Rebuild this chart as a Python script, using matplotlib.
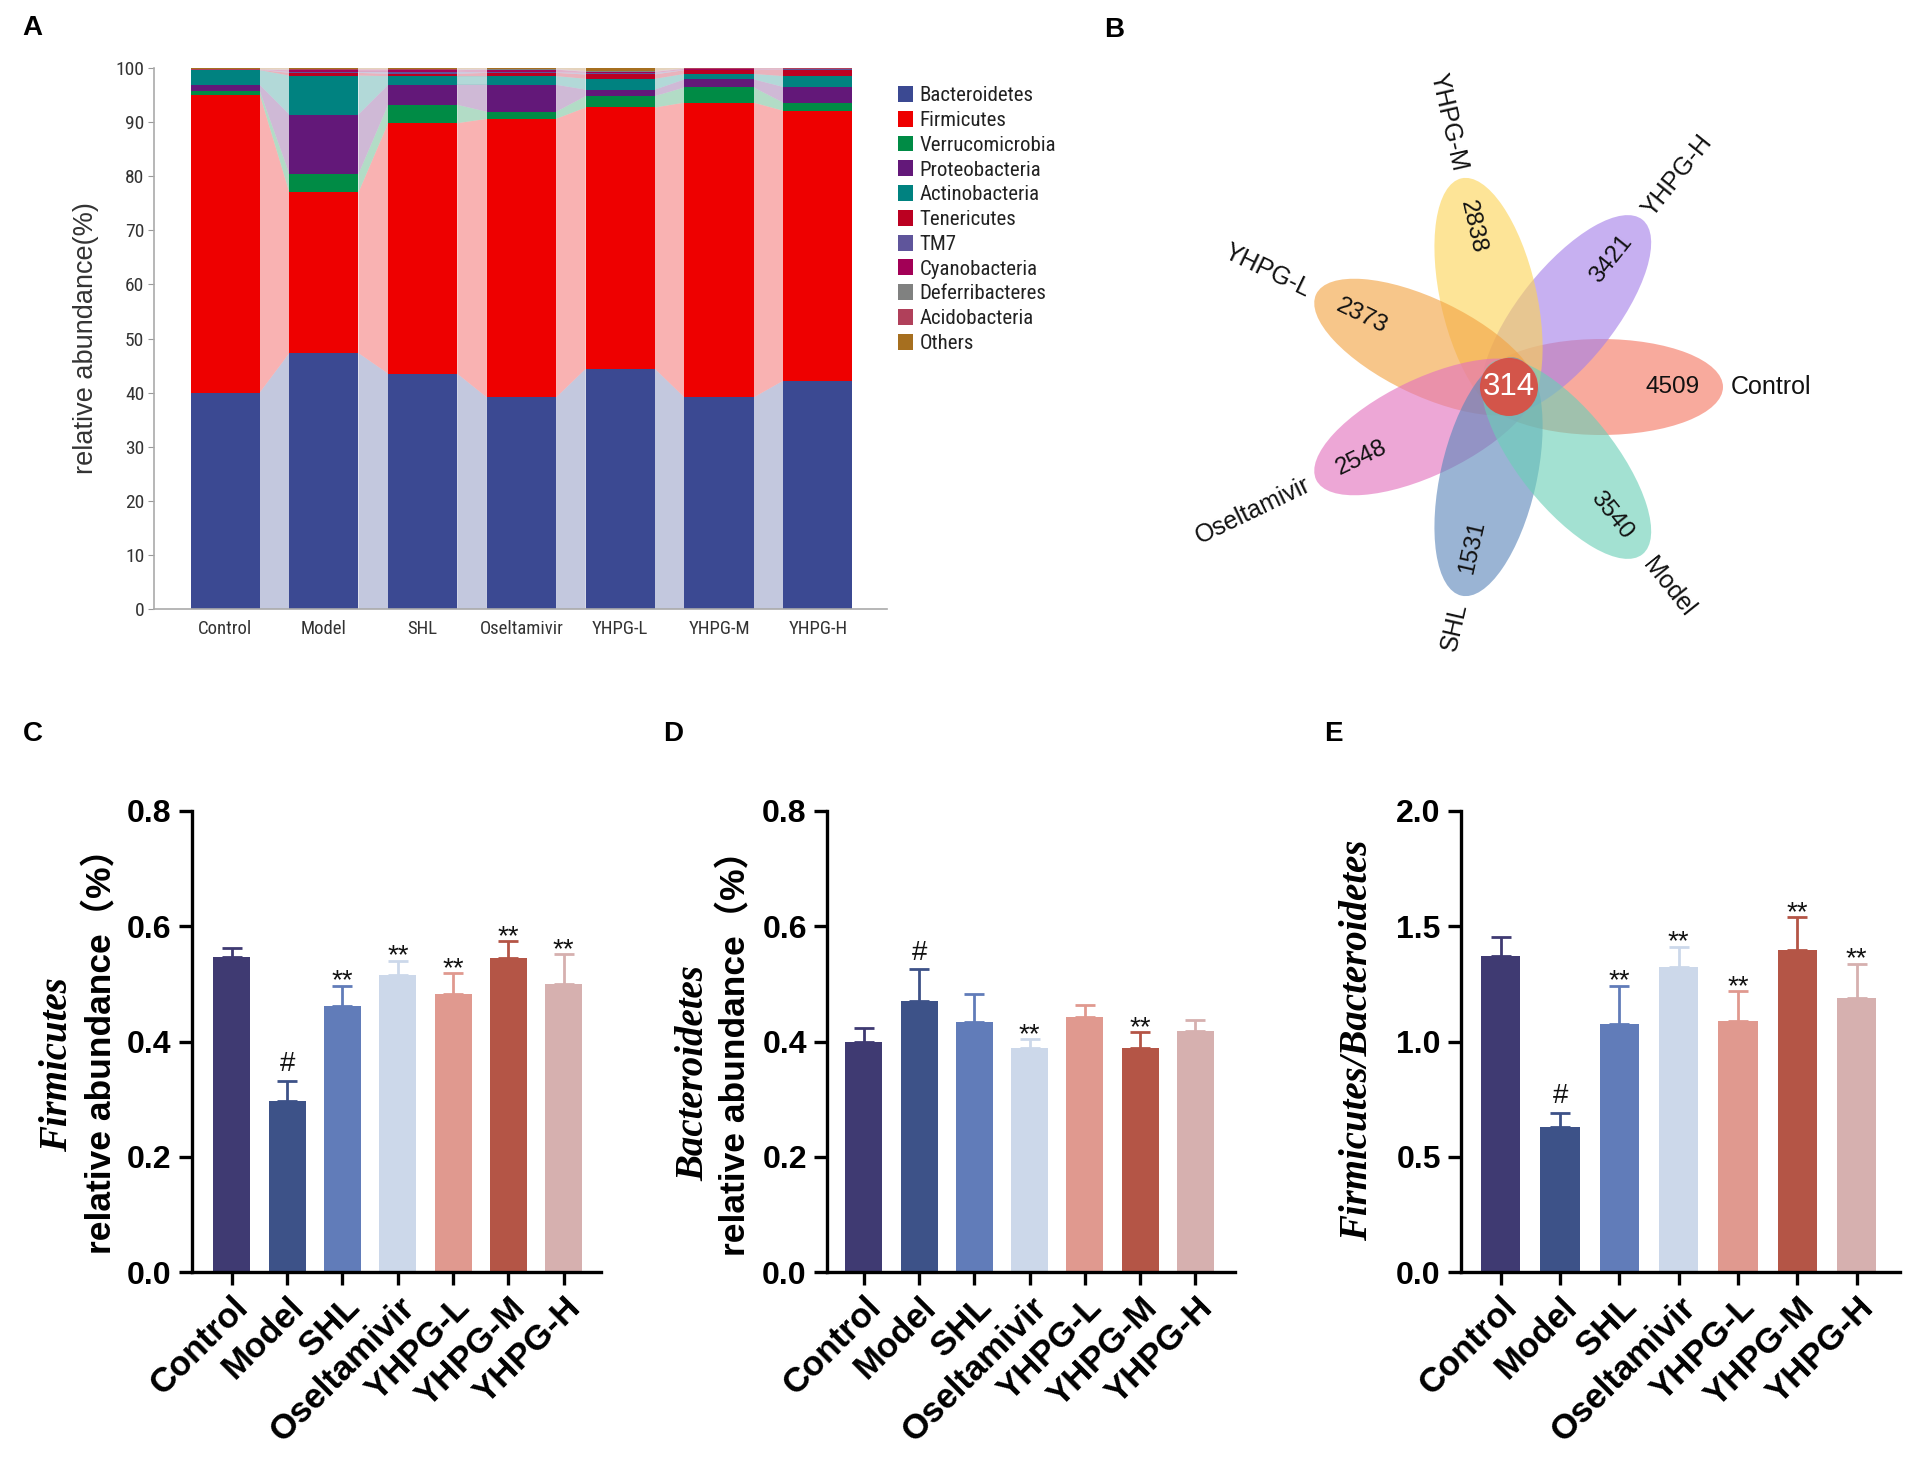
import matplotlib
matplotlib.use('Agg')
import matplotlib.pyplot as plt
from matplotlib.patches import Ellipse, Circle, Patch
from matplotlib import font_manager
from matplotlib.font_manager import FontProperties
import numpy as np

W, H = 1910, 1463

groups = ['Control', 'Model', 'SHL', 'Oseltamivir', 'YHPG-L', 'YHPG-M', 'YHPG-H']

# --- panel A: phylum composition (%) ---
phyla = ['Bacteroidetes', 'Firmicutes', 'Verrucomicrobia', 'Proteobacteria',
         'Actinobacteria', 'Tenericutes', 'TM7', 'Cyanobacteria',
         'Deferribacteres', 'Acidobacteria', 'Others']
phyla_colors = ['#3B4992', '#EE0000', '#008B45', '#631879', '#008280', '#BB0021',
                '#5F559B', '#A20056', '#808180', '#B0405A', '#A66F1F']
bacteroidetes = [40.0, 47.3, 43.5, 39.1, 44.4, 39.1, 42.2]
firmicutes = [55.1, 29.7, 46.3, 51.5, 48.3, 54.5, 49.9]
verrucomicrobia = [0.7, 3.4, 3.4, 1.3, 2.1, 2.8, 1.5]
proteobacteria = [1.1, 11.0, 3.7, 5.0, 1.2, 1.5, 2.9]
actinobacteria = [2.7, 7.2, 1.6, 1.6, 2.0, 1.0, 2.0]
tenericutes = [0.05, 0.5, 0.4, 0.6, 0.8, 0.7, 1.2]
tm7 = [0.02, 0.2, 0.4, 0.1, 0.3, 0.05, 0.05]
cyanobacteria = [0.03, 0.3, 0.3, 0.5, 0.2, 0.2, 0.1]
deferribacteres = [0.02, 0.1, 0.1, 0.1, 0.1, 0.05, 0.05]
acidobacteria = [0.02, 0.1, 0.1, 0.05, 0.1, 0.05, 0.05]
others = [0.26, 0.2, 0.2, 0.15, 0.5, 0.05, 0.05]
composition = [bacteroidetes, firmicutes, verrucomicrobia, proteobacteria,
               actinobacteria, tenericutes, tm7, cyanobacteria,
               deferribacteres, acidobacteria, others]

# --- panel B: flower venn ---
venn_groups = ['Control', 'YHPG-H', 'YHPG-M', 'YHPG-L', 'Oseltamivir', 'SHL', 'Model']
venn_unique = [4509, 3421, 2838, 2373, 2548, 1531, 3540]
venn_core = 314
venn_colors = ['#F57661', '#A580E9', '#FCD457', '#F3A343', '#E371BE', '#5C87BB', '#6BD0B7']

# --- panels C-E ---
firm_mean = [0.547, 0.296, 0.461, 0.515, 0.482, 0.545, 0.499]
firm_err = [0.015, 0.036, 0.036, 0.025, 0.037, 0.029, 0.052]
firm_sig = ['', '#', '**', '**', '**', '**', '**']
bact_mean = [0.400, 0.470, 0.433, 0.388, 0.443, 0.389, 0.419]
bact_err = [0.023, 0.055, 0.049, 0.016, 0.021, 0.027, 0.018]
bact_sig = ['', '#', '', '**', '', '**', '']
ratio_mean = [1.369, 0.627, 1.077, 1.324, 1.088, 1.398, 1.189]
ratio_err = [0.086, 0.064, 0.165, 0.087, 0.131, 0.142, 0.148]
ratio_sig = ['', '#', '**', '**', '**', '**', '**']
bar_colors = ['#3F3A72', '#3D5288', '#617CB9', '#CCD8EA', '#E0998F', '#B45546', '#D6B0AF']

plt.rcParams['font.family'] = ['Liberation Sans', 'DejaVu Sans']


def find_narrow():
    # look for a condensed sans face, panel A uses one
    prefs = ['Liberation Sans Narrow', 'Arial Narrow', 'Roboto Condensed',
             'Open Sans Condensed', 'DejaVu Sans Condensed', 'Noto Sans Condensed']
    found = {}
    for f in font_manager.fontManager.ttflist:
        fn = f.fname.replace('-', '').replace('_', '').lower()
        if f.style != 'normal' or 'bold' in fn or 'italic' in fn or 'oblique' in fn:
            continue
        if 'light' in fn or 'thin' in fn or 'medium' in fn or 'black' in fn:
            continue
        st = str(f.stretch)
        if 'narrow' in fn or 'condensed' in fn or st in ('condensed', 'semi-condensed'):
            key = f.name
            if 'condensed' in fn and 'Condensed' not in key:
                key = key + ' Condensed'
            if 'semicondensed' in fn or 'extracondensed' in fn:
                continue
            found.setdefault(key, f.fname)
    for p in prefs:
        if p in found:
            return found[p]
    return next(iter(found.values()), None)


narrow_path = find_narrow()


def narrow_fp(size):
    if narrow_path:
        return FontProperties(fname=narrow_path, size=size)
    return FontProperties(family='Liberation Sans', size=size * 0.84)


def rect(l, t, r, b):
    # pixel box -> figure fraction
    return [l / W, 1 - b / H, (r - l) / W, (b - t) / H]


def fig_xy(x, y):
    return x / W, 1 - y / H


fig = plt.figure(figsize=(W / 100, H / 100), dpi=100)

# ================= A =================
axA = fig.add_axes(rect(154, 68, 887, 609))
x = np.arange(len(groups))
bw = 0.7
bottom = np.zeros(len(groups))
for vals, col in zip(composition, phyla_colors):
    vals = np.array(vals)
    axA.bar(x, vals, bw, bottom=bottom, color=col, linewidth=0, zorder=2)
    for i in range(len(groups) - 1):
        xs = [x[i] + bw / 2, x[i + 1] - bw / 2, x[i + 1] - bw / 2, x[i] + bw / 2]
        ys = [bottom[i], bottom[i + 1], bottom[i + 1] + vals[i + 1], bottom[i] + vals[i]]
        axA.fill(xs, ys, color=col, alpha=0.3, linewidth=0, zorder=1)
    bottom = bottom + vals

axA.set_xlim(-0.72, 6.70)
axA.set_ylim(0, 100)
axA.set_yticks(np.arange(0, 101, 10))
axA.set_xticks(x)
axA.set_xticklabels(groups, color='#333333')
for lab in axA.get_xticklabels():
    lab.set_fontproperties(narrow_fp(13.5))
for lab in axA.get_yticklabels():
    lab.set_fontproperties(narrow_fp(14))
axA.tick_params(axis='y', colors='#333333', length=4, color='#999999', pad=3)
axA.tick_params(axis='x', length=0, pad=8)
for s in ['top', 'right']:
    axA.spines[s].set_visible(False)
for s in ['left', 'bottom']:
    axA.spines[s].set_color('#AAAAAA')
    axA.spines[s].set_linewidth(1.2)
axA.set_ylabel('relative abundance(%)', fontsize=19.5, color='#333333')
axA.yaxis.set_label_coords(-0.075, 0.5)

leg_fp = narrow_fp(15)
leg_px = leg_fp.get_size_in_points() * 100 / 72
handles = [Patch(facecolor=c, label=n) for n, c in zip(phyla, phyla_colors)]
leg = axA.legend(handles=handles, loc='upper left', bbox_to_anchor=fig_xy(898, 86),
                 bbox_transform=fig.transFigure, frameon=False, prop=leg_fp,
                 handlelength=14.5 / leg_px, handleheight=16.5 / leg_px,
                 handletextpad=0.35, labelspacing=0.27,
                 borderpad=0, borderaxespad=0)
for t in leg.get_texts():
    t.set_color('#222222')

# ================= B =================
axB = fig.add_axes(rect(1100, 40, 1910, 690))
axB.set_xlim(1100, 1910)
axB.set_ylim(H - 690, H - 40)
axB.axis('off')
cx, cy = 1509, H - 387
n = len(venn_groups)
for i, (g, v, c) in enumerate(zip(venn_groups, venn_unique, venn_colors)):
    ang = 360.0 / n * i
    rad = np.deg2rad(ang)
    ux, uy = np.cos(rad), np.sin(rad)
    axB.add_patch(Ellipse((cx + 92 * ux, cy + 92 * uy), 244, 96, angle=ang,
                          facecolor=c, alpha=0.62, linewidth=0))
    if 90 < ang < 270:
        rot, ha = ang - 180, 'right'
    else:
        rot, ha = (ang if ang <= 90 else ang - 360), 'left'
    axB.text(cx + 164 * ux, cy + 164 * uy, str(v), rotation=rot, ha='center', va='center',
             rotation_mode='anchor', fontsize=17.5, color='#111111', zorder=5)
    axB.text(cx + 222 * ux, cy + 222 * uy, g, rotation=rot, ha=ha, va='center',
             rotation_mode='anchor', fontsize=18, color='#111111', zorder=5)
axB.add_patch(Circle((cx, cy), 29, facecolor='#E0483C', alpha=0.88, linewidth=0, zorder=4))
axB.text(cx, cy, str(venn_core), ha='center', va='center', fontsize=22.5, color='white', zorder=6)

# ================= C-E =================
mark_off = {'#': 7, '**': -2}


def bar_panel(box, xlim, width, means, errs, sig, ymax, yticks, ylab_spec):
    ax = fig.add_axes(rect(*box))
    for i, (m, e, c) in enumerate(zip(means, errs, bar_colors)):
        ax.bar(i, m, width, color=c, linewidth=0, zorder=2)
        ax.errorbar(i, m, yerr=[[0], [e]], fmt='none', ecolor=c, elinewidth=2,
                    capsize=7, capthick=2, zorder=1)
        if sig[i]:
            ax.annotate(sig[i], (i, m + e), xytext=(0, mark_off[sig[i]]),
                        textcoords='offset points', ha='center', va='baseline',
                        fontsize=20, color='#111111')
    ax.set_xlim(*xlim)
    ax.set_ylim(0, ymax)
    ax.set_yticks(yticks)
    ax.set_yticklabels(['%.1f' % t for t in yticks], fontsize=23, fontweight='bold')
    ax.set_xticks(range(len(groups)))
    ax.set_xticklabels(groups, rotation=45, ha='right', va='top', rotation_mode='anchor',
                       fontsize=25, fontweight='bold')
    ax.tick_params(width=2.4, length=9.5, direction='out', pad=5)
    ax.tick_params(axis='x', pad=4)
    for s in ['top', 'right']:
        ax.spines[s].set_visible(False)
    for s in ['left', 'bottom']:
        ax.spines[s].set_linewidth(2.4)
    for txt, px, py, kw in ylab_spec:
        fig.text(*fig_xy(px, py), txt, rotation=90, ha='center', va='center', **kw)
    return ax


ital = dict(fontfamily=['Liberation Serif', 'DejaVu Serif'], fontstyle='italic',
            fontweight='bold', fontsize=28)
rel = dict(fontfamily=['Liberation Sans', 'Noto Sans CJK SC', 'DejaVu Sans'],
           fontweight='bold', fontsize=25.5)

bar_panel((191.5, 811, 601, 1272), (-0.73, 6.675), 0.67, firm_mean, firm_err, firm_sig,
          0.8, [0.0, 0.2, 0.4, 0.6, 0.8],
          [('Firmicutes', 58, 1065, ital), ('relative abundance\uff08%\uff09', 101.5, 1043, rel)])
bar_panel((827, 811, 1235, 1272), (-0.67, 6.72), 0.67, bact_mean, bact_err, bact_sig,
          0.8, [0.0, 0.2, 0.4, 0.6, 0.8],
          [('Bacteroidetes', 694, 1073, ital), ('relative abundance\uff08%\uff09', 735, 1045, rel)])
bar_panel((1461, 811, 1900, 1272), (-0.67, 6.73), 0.66, ratio_mean, ratio_err, ratio_sig,
          2.0, [0.0, 0.5, 1.0, 1.5, 2.0],
          [('Firmicutes/Bacteroidetes', 1358, 1040, ital)])

# panel letters
for letter, px, py in [('A', 22, 28), ('B', 1104, 30), ('C', 23, 734),
                       ('D', 663, 734), ('E', 1324, 734)]:
    fig.text(*fig_xy(px, py), letter, fontsize=20, fontweight='bold', ha='left', va='center')

fig.savefig('out.png', dpi=100, facecolor='white')
